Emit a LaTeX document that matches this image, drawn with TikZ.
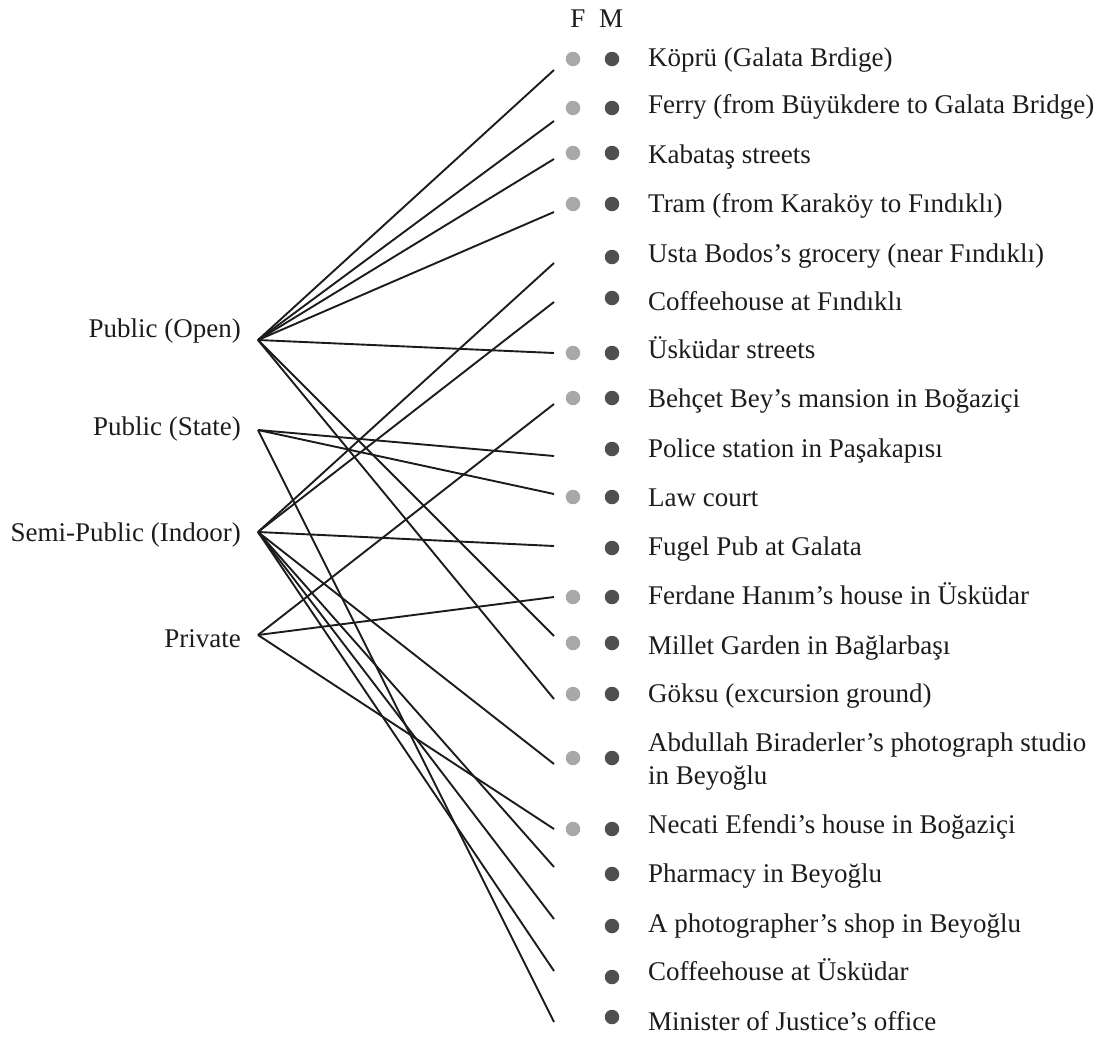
\documentclass[tikz,border=0pt]{standalone}
\usepackage{fontspec}
\setmainfont{Liberation Serif}
\definecolor{ink}{HTML}{1C1C1C}
\definecolor{femgray}{HTML}{A8A8A8}
\definecolor{malegray}{HTML}{4F4F4F}
\begin{document}
\begin{tikzpicture}[x=1pt,y=-1pt,
  lbl/.style={inner sep=0pt, font=\fontsize{27}{33}\selectfont, text=ink},
  link/.style={line width=1.9pt, draw=ink},
  fdot/.style={circle, fill=femgray, inner sep=0pt, minimum size=14.5pt},
  mdot/.style={circle, fill=malegray, inner sep=0pt, minimum size=14.5pt}]
\useasboundingbox (0,0) rectangle (1112,1039);

% column heads: F = female, M = male
\node[lbl, anchor=base] (headF) at (578,27) {F};
\node[lbl, anchor=base] (headM) at (611,27) {M};

% space categories and the points where their links meet
\node[lbl, anchor=base east] (lpo) at (241,337) {Public (Open)};
\node[lbl, anchor=base east] (lps) at (241,435) {Public (State)};
\node[lbl, anchor=base east] (lsp) at (241,541) {Semi-Public (Indoor)};
\node[lbl, anchor=base east] (lpr) at (241,647) {Private};
\coordinate (po) at (258,340);
\coordinate (ps) at (258,430);
\coordinate (sp) at (258,532);
\coordinate (pr) at (258,635);

% places: index / dot y / baseline / link end y / female dot / name
\foreach \i/\dy/\by/\ey/\f/\t in {
  1/59/66/70/1/{Köprü (Galata Brdige)},
  2/108/113/121/1/{Ferry (from Büyükdere to Galata Bridge)},
  3/153/163/159/1/{Kabataş streets},
  4/204/212/212/1/{Tram (from Karaköy to Fındıklı)},
  5/257/262/263/0/{Usta Bodos’s grocery (near Fındıklı)},
  6/298/310/302/0/{Coffeehouse at Fındıklı},
  7/353/358/353/1/{Üsküdar streets},
  8/398/407/404/1/{Behçet Bey’s mansion in Boğaziçi},
  9/449/457/456/0/{Police station in Paşakapısı},
  10/497/506/494/1/{Law court},
  11/548/555/546/0/{Fugel Pub at Galata},
  12/597/604/597/1/{Ferdane Hanım’s house in Üsküdar},
  13/643/654/636/1/{Millet Garden in Bağlarbaşı},
  14/694/702/699/1/{Göksu (excursion ground)},
  16/829/833/829/1/{Necati Efendi’s house in Boğaziçi},
  17/874/882/867/0/{Pharmacy in Beyoğlu},
  18/926/932/919/0/{A photographer’s shop in Beyoğlu},
  19/977/980/971/0/{Coffeehouse at Üsküdar},
  20/1017/1030/1022/0/{Minister of Justice’s office}}
{
  \node[lbl, anchor=base west] (t\i) at (648,\by) {\t};
  \node[mdot] (m\i) at (612,\dy) {};
  \ifnum\f=1 \node[fdot] (f\i) at (573,\dy) {}; \fi
  \coordinate (e\i) at (554,\ey);
}

% the one place whose name runs over two lines
\node[lbl, anchor=west, align=left] (t15) at (648,762)
  {Abdullah Biraderler’s photograph studio\\in Beyoğlu};
\node[mdot] (m15) at (612,758) {};
\node[fdot] (f15) at (573,758) {};
\coordinate (e15) at (554,764);

% links from each category to its places
\foreach \e in {1,2,3,4,7,13,14} \draw[link] (po) -- (e\e);
\foreach \e in {9,10,20} \draw[link] (ps) -- (e\e);
\foreach \e in {5,6,11,15,17,18,19} \draw[link] (sp) -- (e\e);
\foreach \e in {8,12,16} \draw[link] (pr) -- (e\e);
\end{tikzpicture}
\end{document}
